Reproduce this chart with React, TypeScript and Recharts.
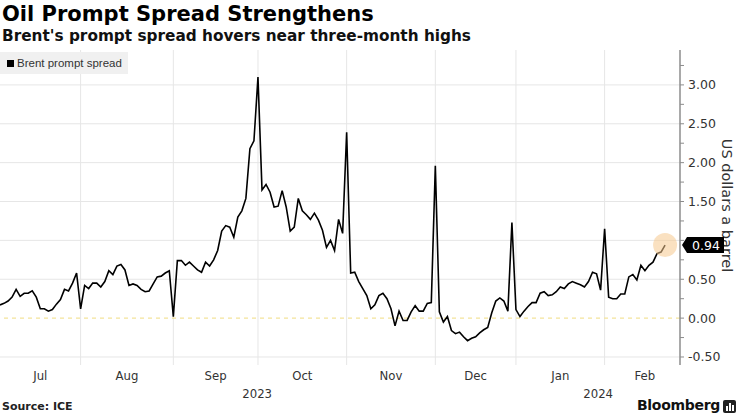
import React from 'react';
import { LineChart, Line, XAxis, YAxis, ReferenceLine, ReferenceDot } from 'recharts';

// Brent prompt spread, one value per trading day, grouped by month
const julValues = [0.17, 0.19, 0.22, 0.27, 0.37, 0.28, 0.32, 0.32, 0.35, 0.27, 0.12, 0.12, 0.09, 0.11, 0.18, 0.24, 0.37, 0.35, 0.45, 0.58];
const augValues = [0.12, 0.42, 0.38, 0.45, 0.45, 0.4, 0.47, 0.61, 0.56, 0.67, 0.69, 0.62, 0.42, 0.44, 0.42, 0.37, 0.34, 0.35, 0.44, 0.53, 0.54, 0.58, 0.61];
const sepValues = [0.02, 0.74, 0.74, 0.68, 0.72, 0.67, 0.62, 0.59, 0.72, 0.67, 0.75, 0.87, 1.12, 1.19, 1.17, 1.04, 1.3, 1.38, 1.54, 2.18, 2.28];
const octValues = [3.1, 1.65, 1.72, 1.62, 1.43, 1.44, 1.64, 1.43, 1.12, 1.17, 1.54, 1.38, 1.33, 1.27, 1.35, 1.26, 1.13, 0.91, 1.0, 0.87, 1.27, 1.09];
const novValues = [2.39, 0.58, 0.59, 0.47, 0.38, 0.29, 0.12, 0.17, 0.29, 0.32, 0.25, 0.12, -0.1, 0.09, -0.03, -0.03, 0.08, 0.16, 0.09, 0.09, 0.19, 0.2];
const decValues = [1.96, 0.08, -0.05, 0.02, -0.16, -0.2, -0.18, -0.24, -0.29, -0.26, -0.24, -0.19, -0.15, -0.12, 0.07, 0.22, 0.26, 0.22, 0.09];
const janValues = [1.23, 0.11, 0.02, 0.09, 0.15, 0.2, 0.2, 0.32, 0.34, 0.29, 0.3, 0.34, 0.4, 0.38, 0.44, 0.47, 0.45, 0.43, 0.4, 0.47, 0.59, 0.57, 0.36];
const febValues = [1.15, 0.27, 0.25, 0.25, 0.31, 0.31, 0.53, 0.56, 0.49, 0.68, 0.61, 0.68, 0.72, 0.83, 0.85, 0.94];

// axis positions in trading-day index units
const monthStarts = [20, 43, 64, 86, 108, 128, 150];
const monthLabels = ['Jul', 'Aug', 'Sep', 'Oct', 'Nov', 'Dec', 'Jan', 'Feb'];
const monthLabelPos = [10, 31.5, 53.5, 75, 97, 118, 139, 160];
const yearLabels = ['2023', '2024'];
const yearLabelPos = [63.8, 148.4];
const yMajor = [-0.5, 0, 0.5, 1, 1.5, 2, 2.5, 3];
const yTicks = [-0.5, -0.25, 0, 0.25, 0.5, 0.75, 1, 1.25, 1.5, 1.75, 2, 2.25, 2.5, 2.75, 3, 3.25];

const values = [...julValues, ...augValues, ...sepValues, ...octValues, ...novValues, ...decValues, ...janValues, ...febValues];
const data = values.map((v, i) => ({ i, v }));
const last = data[data.length - 1];

const X_MAX = 168.7;
const tickFont = "'DejaVu Sans', sans-serif";
const narrowFont = "'Liberation Sans Narrow', 'DejaVu Sans Condensed', 'Liberation Sans', sans-serif";

function XTick(props: any) {
  const { x, y, payload } = props;
  const yi = yearLabelPos.indexOf(payload.value);
  if (yi >= 0) {
    return (
      <text x={x} y={y + 33} textAnchor="middle" fontSize={13} fontFamily={narrowFont} fill="#333">
        {yearLabels[yi]}
      </text>
    );
  }
  const mi = monthLabelPos.indexOf(payload.value);
  return (
    <text x={x} y={y + 15} textAnchor="middle" fontSize={13} fontFamily={narrowFont} fill="#333">
      {monthLabels[mi]}
    </text>
  );
}

function YTick(props: any) {
  const { x, y, payload } = props;
  if (!yMajor.includes(payload.value)) return null;
  // the last-value tag covers the nearest label
  if (Math.abs(payload.value - last.v) < 0.15) return null;
  return (
    <text x={x + 2} y={y + 4.5} textAnchor="start" fontSize={12.5} fontFamily={tickFont} fill="#333">
      {payload.value.toFixed(2)}
    </text>
  );
}

function YLabel(props: any) {
  const vb = props.viewBox;
  const cx = vb.x + 47;
  const cy = vb.y + vb.height / 2 - 2;
  return (
    <text
      x={cx}
      y={cy}
      transform={`rotate(90 ${cx} ${cy})`}
      textAnchor="middle"
      dominantBaseline="central"
      fontSize={14.5}
      fontFamily={tickFont}
      fill="#333"
    >
      US dollars a barrel
    </text>
  );
}

function LastTag(props: any) {
  const { cx, cy } = props;
  const x0 = cx + 2;
  return (
    <g>
      <path
        d={`M${x0},${cy} L${x0 + 5},${cy - 8} L${x0 + 42},${cy - 8} L${x0 + 42},${cy + 8} L${x0 + 5},${cy + 8} Z`}
        fill="#000"
      />
      <text x={x0 + 24} y={cy + 4.5} textAnchor="middle" fontSize={12.5} fontFamily={tickFont} fill="#fff">
        {last.v.toFixed(2)}
      </text>
    </g>
  );
}

export default function App() {
  return (
    <div style={{ position: 'absolute', left: 0, top: 0, width: 740, height: 416, background: '#fff', overflow: 'hidden' }}>
      <div style={{ position: 'absolute', left: 2, top: 2, fontFamily: tickFont, fontWeight: 'bold', fontSize: 21, color: '#000', whiteSpace: 'nowrap' }}>
        Oil Prompt Spread Strengthens
      </div>
      <div style={{ position: 'absolute', left: 2, top: 27, fontFamily: tickFont, fontWeight: 'bold', fontSize: 15.3, color: '#111', whiteSpace: 'nowrap' }}>
        Brent's prompt spread hovers near three-month highs
      </div>
      <LineChart width={740} height={416} data={data} margin={{ top: 50, right: 0, bottom: 14, left: 0 }}>
        {monthStarts.map((m) => (
          <ReferenceLine key={'m' + m} x={m} stroke="#e6e6e6" strokeWidth={1} />
        ))}
        {yMajor
          .filter((t) => t !== 0)
          .map((t) => (
            <ReferenceLine key={'y' + t} y={t} stroke="#e6e6e6" strokeWidth={1} />
          ))}
        <ReferenceLine y={0} stroke="#f3e49a" strokeWidth={1.2} strokeDasharray="4 4" />
        <XAxis
          dataKey="i"
          type="number"
          domain={[0, X_MAX]}
          allowDataOverflow
          ticks={[...monthLabelPos, ...yearLabelPos]}
          tick={<XTick />}
          tickLine={false}
          axisLine={false}
          tickSize={0}
          tickMargin={0}
          height={37}
          interval={0}
        />
        <YAxis
          orientation="right"
          width={60}
          domain={[-0.603, 3.449]}
          allowDataOverflow
          ticks={yTicks}
          interval={0}
          tick={<YTick />}
          tickSize={4}
          tickMargin={2}
          tickLine={{ stroke: '#8c8c8c' }}
          axisLine={{ stroke: '#8c8c8c', strokeWidth: 1.5 }}
          label={<YLabel />}
        />
        <Line type="linear" dataKey="v" stroke="#000" strokeWidth={1.6} dot={false} isAnimationActive={false} />
        <ReferenceDot x={last.i} y={last.v} r={12} fill="#f6c98e" fillOpacity={0.55} stroke="none" />
        <ReferenceDot x={X_MAX} y={last.v} r={0} shape={<LastTag />} ifOverflow="visible" />
      </LineChart>
      <div
        style={{
          position: 'absolute',
          left: 0,
          top: 52,
          width: 128,
          height: 22,
          background: '#f0f0f0',
          fontFamily: "'Liberation Sans', Arial, sans-serif",
          fontSize: 11.5,
          color: '#333',
          display: 'flex',
          alignItems: 'center',
          whiteSpace: 'nowrap',
        }}
      >
        <span style={{ display: 'inline-block', width: 7, height: 7, background: '#000', marginLeft: 7, marginRight: 3 }} />
        Brent prompt spread
      </div>
      <div style={{ position: 'absolute', left: 2, top: 400, fontFamily: tickFont, fontWeight: 'bold', fontSize: 11, color: '#222' }}>
        Source: ICE
      </div>
      <div style={{ position: 'absolute', right: 20, top: 397, fontFamily: tickFont, fontWeight: 'bold', fontSize: 14, color: '#111', letterSpacing: -0.3 }}>
        Bloomberg
      </div>
      <svg style={{ position: 'absolute', left: 723, top: 400 }} width={13} height={13}>
        <rect x={0} y={0} width={13} height={13} rx={2} fill="#222" />
        <rect x={3} y={6} width={2} height={5} fill="#fff" />
        <rect x={6} y={3} width={2} height={8} fill="#fff" />
        <rect x={9} y={5} width={2} height={6} fill="#fff" />
      </svg>
    </div>
  );
}
